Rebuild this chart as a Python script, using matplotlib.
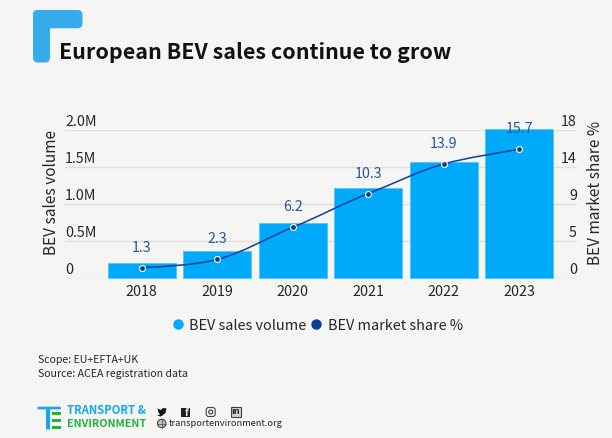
#!/usr/bin/python3
import matplotlib
matplotlib.use('Agg')
import matplotlib.pyplot as plt
from matplotlib.patches import FancyBboxPatch, Rectangle, Circle, Polygon, PathPatch
from matplotlib.path import Path
from matplotlib.lines import Line2D
from matplotlib.transforms import ScaledTranslation

W, H = 612, 438
BG = '#F5F5F3'
TEXT = '#262626'
BAR_BLUE = '#00AAFA'
LINE_BLUE = '#0E3F94'
LABEL_BLUE = '#2A55A3'
LOGO_BLUE = '#38ABEC'
TE_BLUE = '#16A6EE'
TE_GREEN = '#1DB33C'

years = ['2018', '2019', '2020', '2021', '2022', '2023']
sales_volume = [0.203, 0.365, 0.747, 1.22, 1.572, 2.02]
market_share = [1.3, 2.3, 6.2, 10.3, 13.9, 15.7]
share_labels = ['1.3', '2.3', '6.2', '10.3', '13.9', '15.7']
volume_ticks = [0, 0.5, 1.0, 1.5, 2.0]
volume_tick_labels = ['0', '0.5M', '1.0M', '1.5M', '2.0M']
share_ticks = [0, 4.5, 9, 13.5, 18]
share_tick_labels = ['0', '5', '9', '14', '18']

plt.rcParams['font.family'] = ['Noto Sans CJK SC', 'DejaVu Sans']

fig = plt.figure(figsize=(W / 100, H / 100), dpi=100, facecolor=BG)

#Overlay in pixel coords for title, logo and footer
deco = fig.add_axes([0, 0, 1, 1], zorder=0)
deco.set_xlim(0, W)
deco.set_ylim(H, 0)
deco.axis('off')

#Corner logo
deco.add_patch(FancyBboxPatch((33, 10), 49.5, 18.3, boxstyle='round,pad=0,rounding_size=5', fc=LOGO_BLUE, ec='none'))
deco.add_patch(FancyBboxPatch((33, 10), 17, 52.5, boxstyle='round,pad=0,rounding_size=5', fc=LOGO_BLUE, ec='none'))
deco.text(59, 52.5, 'European BEV sales continue to grow', fontsize=15.4, fontweight='bold', color='#111111', va='center', ha='left')

#Footer
deco.text(38, 360, 'Scope: EU+EFTA+UK', fontsize=7.6, fontweight='medium', color=TEXT, va='center')
deco.text(38, 374, 'Source: ACEA registration data', fontsize=7.6, fontweight='medium', color=TEXT, va='center')

#T&E logo
deco.add_patch(FancyBboxPatch((37.5, 406.7), 23.5, 2.7, boxstyle='round,pad=0,rounding_size=1.2', fc=TE_BLUE, ec='none'))
deco.add_patch(FancyBboxPatch((46, 409), 4, 20.5, boxstyle='round,pad=0,rounding_size=1.2', fc=TE_BLUE, ec='none'))
for y in (412, 419, 426):
    deco.add_patch(Rectangle((52, y), 9, 2.8, fc=TE_GREEN, ec='none'))
deco.text(67, 410.7, 'TRANSPORT &', fontsize=8.05, fontweight='bold', color=TE_BLUE, va='center')
deco.text(67, 424, 'ENVIRONMENT', fontsize=7.7, fontweight='bold', color=TE_GREEN, va='center')

#Social icons
deco.add_patch(Polygon([(157.5, 408.5), (161, 410), (163, 408), (166.5, 408.5), (165.5, 413), (161, 416.5), (157, 415.5), (160, 414.5), (158, 411.5)],
                       fc='#111111', ec='none'))
deco.add_patch(Rectangle((181, 407.5), 9, 9, fc='#222222', ec='none'))
deco.text(186.5, 412.5, 'f', fontsize=7, fontweight='bold', color=BG, ha='center', va='center')
deco.add_patch(FancyBboxPatch((206.2, 407.5), 9, 9, boxstyle='round,pad=0,rounding_size=2.5', fc='none', ec='#444444', lw=0.8))
deco.add_patch(Circle((210.7, 412), 2, fc='none', ec='#333333', lw=0.8))
deco.add_patch(Rectangle((230.5, 407), 10, 10, fc='#D0D0CE', ec='#444444', lw=0.8))
deco.text(235.5, 412, 'in', fontsize=6.5, fontweight='bold', color='#222222', ha='center', va='center')
deco.add_patch(Circle((161.7, 423.5), 4.2, fc='#C4C4C2', ec='#444444', lw=0.8))
deco.plot([157.5, 165.9], [423.5, 423.5], color='#444444', lw=0.5)
deco.plot([161.7, 161.7], [419.3, 427.7], color='#444444', lw=0.5)
deco.text(169, 423.6, 'transportenvironment.org', fontsize=6.7, fontweight='medium', color=TEXT, va='center')

#Main chart
left, right, top, bottom = 65, 577, 130.3, 278.3
ax = fig.add_axes([left / W, 1 - bottom / H, (right - left) / W, (bottom - top) / H], zorder=1)
ax.patch.set_alpha(0)
x = list(range(len(years)))
ax.bar(x, sales_volume, width=0.9, color=BAR_BLUE, edgecolor='#55C4FA', linewidth=0.6, zorder=2, clip_on=False)
ax.set_xlim(-1.016, 5.766)
ax.set_ylim(0, 2.0)
ax.set_xticks(x)
ax.set_xticklabels(years)
ax.set_yticks(volume_ticks)
ax.set_yticklabels(volume_tick_labels)
ax.grid(axis='y', color='#DEDEDC', linewidth=1, zorder=1)
ax.tick_params(axis='x', length=0, pad=5, labelsize=10.3, labelcolor=TEXT)
ax.tick_params(axis='y', length=0, pad=0, labelsize=10.3, labelcolor=TEXT)
lift = ScaledTranslation(0, 1.2 / 100, fig.dpi_scale_trans)
for lab in ax.get_yticklabels():
    lab.set_ha('left')
    lab.set_va('bottom')
    lab.set_transform(lab.get_transform() + lift)
for side in ax.spines.values():
    side.set_visible(False)
ax.set_ylabel('BEV sales volume', fontsize=11.1, color=TEXT)
ax.yaxis.set_label_coords(-0.009, 0.58)

ax2 = ax.twinx()
ax2.set_ylim(0, 18)
ax2.set_yticks(share_ticks)
ax2.set_yticklabels(share_tick_labels)
ax2.tick_params(axis='y', length=0, pad=0, labelsize=10.3, labelcolor=TEXT)
for lab in ax2.get_yticklabels():
    lab.set_ha('right')
    lab.set_va('bottom')
    lab.set_transform(lab.get_transform() + lift)
for side in ax2.spines.values():
    side.set_visible(False)
ax2.set_ylabel('BEV market share %', fontsize=11.1, color=TEXT)
ax2.yaxis.set_label_coords(1.02, 0.58)

#Slightly smoothed line through the points
verts = [(x[0], market_share[0])]
codes = [Path.MOVETO]
n = len(x)
for i in range(n - 1):
    prev_s = (market_share[i] - market_share[i - 1]) if i > 0 else 0
    next_s = (market_share[i + 2] - market_share[i + 1]) if i < n - 2 else market_share[i + 1] - market_share[i]
    d = market_share[i + 1] - market_share[i]
    c1 = market_share[i] + (prev_s + d) / 6.5
    c2 = market_share[i + 1] - (d + next_s) / 6.5
    verts += [(x[i] + 1 / 3, c1), (x[i] + 2 / 3, c2), (x[i + 1], market_share[i + 1])]
    codes += [Path.CURVE4, Path.CURVE4, Path.CURVE4]
ax2.add_patch(PathPatch(Path(verts, codes), fc='none', ec=LINE_BLUE, lw=1.1, zorder=3))
ax2.plot(x, market_share, ls='none', marker='o', ms=4.3, mfc=LINE_BLUE, mec='white', mew=0.8, zorder=4)

for xi, share, lab in zip(x, market_share, share_labels):
    ax2.annotate(lab, (xi, share), xytext=(0, 14.4), textcoords='offset points', ha='center', va='center',
                 fontsize=10.3, color=LABEL_BLUE, zorder=5, annotation_clip=False)

handles = [
    Line2D([], [], ls='none', marker='o', ms=7.5, mfc=BAR_BLUE, mec='none', label='BEV sales volume'),
    Line2D([], [], ls='none', marker='o', ms=7.5, mfc=LINE_BLUE, mec='none', label='BEV market share %'),
]
fig.legend(handles=handles, loc='center', bbox_to_anchor=(316 / W, 1 - 325.5 / H), ncol=2, frameon=False,
           fontsize=10.4, labelcolor=TEXT, handlelength=1.2, handletextpad=0.2, columnspacing=0.07)

fig.savefig('out.png', dpi=100, facecolor=BG)
